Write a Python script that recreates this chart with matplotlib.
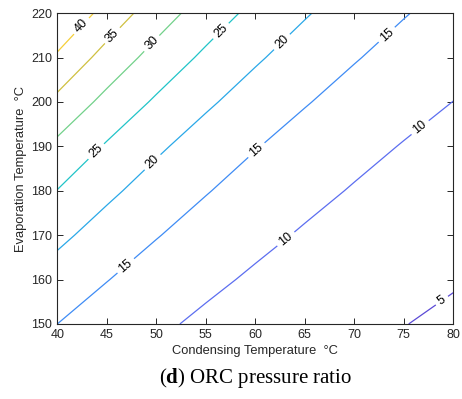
import numpy as np
import matplotlib.pyplot as plt

plt.rcParams['font.family'] = ['Liberation Sans', 'DejaVu Sans']
plt.rcParams['mathtext.fontset'] = 'custom'
plt.rcParams['mathtext.rm'] = 'Liberation Serif'
plt.rcParams['mathtext.bf'] = 'Liberation Serif:bold'

# Condensing temperature (columns) and evaporation temperature (rows), degC
cond_temp = [40, 45, 50, 55, 60, 65, 70, 75, 80]
evap_temp = [150, 160, 170, 180, 190, 200, 210, 220]

# ORC pressure ratio at each (evap, cond) grid point
pressure_ratio = [
    [15.0, 12.70, 10.79, 9.20, 7.88, 6.78, 5.85, 5.07, 4.41],
    [17.9, 15.15, 12.87, 10.98, 9.41, 8.09, 6.98, 6.05, 5.27],
    [21.2, 17.94, 15.25, 13.01, 11.14, 9.58, 8.27, 7.17, 6.24],
    [24.9, 21.08, 17.91, 15.28, 13.08, 11.25, 9.71, 8.42, 7.33],
    [29.0, 24.55, 20.86, 17.79, 15.24, 13.11, 11.31, 9.80, 8.53],
    [33.9, 28.69, 24.38, 20.80, 17.81, 15.32, 13.22, 11.46, 9.97],
    [39.3, 33.26, 28.27, 24.11, 20.65, 17.76, 15.33, 13.29, 11.56],
    [45.2, 38.26, 32.51, 27.74, 23.75, 20.43, 17.63, 15.28, 13.30],
]

levels = [5, 10, 15, 20, 25, 30, 35, 40]
line_colors = ['#5b4ad6', '#5c6ef0', '#3f8cf5', '#2aa8e8',
               '#21c4c8', '#72d18a', '#cfc040', '#f5cf3a']

# label spots along the lines (cond, evap)
label_pos = [(42.3, 217.4), (45.5, 215.1), (49.4, 213.5), (56.4, 216.3),
             (62.7, 213.5), (73.1, 215.6), (76.6, 194.4), (44.0, 188.7),
             (49.6, 186.5), (60.1, 189.2), (46.8, 163.4), (63.0, 169.4),
             (79.0, 154.8)]

X, Y = np.meshgrid(cond_temp, evap_temp)
Z = np.array(pressure_ratio)

fig = plt.figure(figsize=(4.62, 3.99), dpi=100)
ax = fig.add_axes([0.124, 0.188, 0.857, 0.779])

# contour the log so the lines stay straight between grid points
cs = ax.contour(X, Y, np.log(Z), levels=np.log(levels),
                colors=line_colors, linewidths=0.9)
ax.clabel(cs, fmt=lambda v: f"{np.exp(v):.0f}", manual=label_pos,
          fontsize=9, colors='black', inline=True, inline_spacing=4)

ax.set_xlim(40, 80)
ax.set_ylim(150, 220)
ax.set_xticks(range(40, 81, 5))
ax.set_yticks(range(150, 221, 10))
ax.tick_params(direction='in', top=True, right=True, labelsize=9,
               colors='#262626', length=4, width=0.7)
for sp in ax.spines.values():
    sp.set_linewidth(0.8)
    sp.set_color('#262626')

ax.set_xlabel('Condensing Temperature  °C', fontsize=9.3, color='#262626',
              labelpad=3)
ax.set_ylabel('Evaporation Temperature  °C', fontsize=9.3, color='#262626',
              labelpad=3)

fig.text(0.552, 0.052, r'($\mathbf{d}$) ORC pressure ratio',
         ha='center', va='center', fontsize=15, family='Liberation Serif')

fig.savefig('out.png', dpi=100)
